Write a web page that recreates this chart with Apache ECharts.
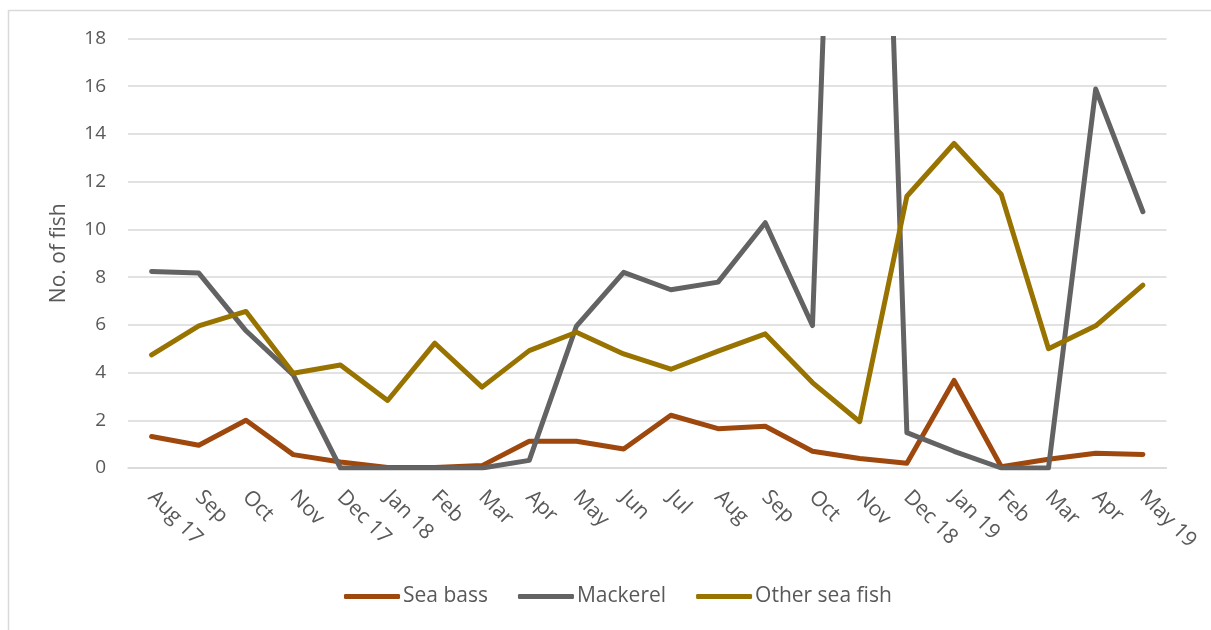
<!DOCTYPE html>
<html>
<head>
<meta charset="utf-8">
<script src="https://cdn.jsdelivr.net/npm/echarts@6/dist/echarts.min.js"></script>
<style>
html,body{margin:0;padding:0;background:#fff;}
#chart{width:1211px;height:630px;}
</style>
</head>
<body>
<div id="chart"></div>
<script>
const categories = ['Aug 17','Sep','Oct','Nov','Dec 17','Jan 18','Feb','Mar','Apr','May','Jun','Jul','Aug','Sep','Oct','Nov','Dec 18','Jan 19','Feb','Mar','Apr','May 19'];
const seaBass  = [1.32, 0.95, 2.0, 0.56, 0.25, 0.02, 0.02, 0.1, 1.12, 1.12, 0.8, 2.21, 1.65, 1.75, 0.7, 0.4, 0.2, 3.67, 0.05, 0.37, 0.62, 0.57];
const mackerel = [8.24, 8.17, 5.75, 3.9, 0, 0, 0, 0, 0.32, 5.95, 8.2, 7.47, 7.79, 10.28, 5.97, 60, 1.48, 0.7, 0, 0, 15.88, 10.74];
const otherFish = [4.74, 5.96, 6.56, 3.97, 4.32, 2.83, 5.23, 3.39, 4.92, 5.69, 4.78, 4.14, 4.9, 5.62, 3.58, 1.94, 11.39, 13.6, 11.46, 5.0, 5.96, 7.66];
const seriesNames = ['Sea bass','Mackerel','Other sea fish'];
const yTicks = {min: 0, max: 18, interval: 2};

const FONT = '"Open Sans"';
const TXT = '#595959';
const chart = echarts.init(document.getElementById('chart'));
function lineSeries(name, data, color){
  return {
    name: name, type: 'line', data: data, symbol: 'none', clip: true,
    lineStyle: {color: color, width: 5, cap: 'round', join: 'round'},
    itemStyle: {color: color}
  };
}
chart.setOption({
  animation: false,
  backgroundColor: '#fff',
  graphic: [{
    type: 'rect', shape: {x: 8.5, y: 10.5, width: 1400, height: 900},
    style: {fill: 'none', stroke: '#D9D9D9', lineWidth: 1.5}, silent: true
  }],
  grid: {left: 128, right: 44.5, top: 38.5, bottom: 162},
  legend: {
    top: 586, left: 344, padding: 0,
    icon: 'roundRect', itemWidth: 56, itemHeight: 5, itemGap: 30,
    textStyle: {fontFamily: FONT, fontSize: 21, color: TXT, padding: [0,0,0,-2]},
    data: seriesNames
  },
  xAxis: {
    type: 'category', data: categories, boundaryGap: true,
    axisLine: {show: true, lineStyle: {color: '#D9D9D9', width: 1.5}},
    axisTick: {show: false},
    axisLabel: {rotate: -45, interval: 0, margin: 26, fontFamily: FONT, fontSize: 21, color: TXT}
  },
  yAxis: {
    type: 'value', min: yTicks.min, max: yTicks.max, interval: yTicks.interval,
    name: 'No. of fish', nameLocation: 'middle', nameGap: 58, nameRotate: 90,
    nameTextStyle: {fontFamily: FONT, fontSize: 21, color: TXT},
    axisLine: {show: false}, axisTick: {show: false},
    axisLabel: {margin: 22, fontFamily: FONT, fontSize: 19, color: TXT},
    splitLine: {lineStyle: {color: '#D9D9D9', width: 1.5}}
  },
  series: [
    lineSeries(seriesNames[0], seaBass, '#9E480E'),
    lineSeries(seriesNames[1], mackerel, '#636363'),
    lineSeries(seriesNames[2], otherFish, '#997300')
  ]
});
</script>
</body>
</html>
